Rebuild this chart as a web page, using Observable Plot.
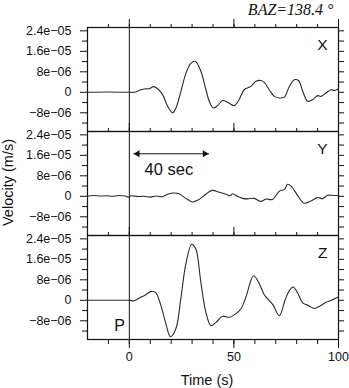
<!DOCTYPE html>
<html><head><meta charset="utf-8">
<script src="https://cdn.jsdelivr.net/npm/d3@7"></script>
<script src="https://cdn.jsdelivr.net/npm/@observablehq/plot@0.6"></script>
<style>body{margin:0;background:#fff}</style>
</head><body><div id="chart"></div>
<script>
// Components (facets)
const components = ["X", "Y", "Z"];
// Velocities in units of 1e-6 m/s, time in s relative to P
const xTime = [-20,-10,0,3,5.5,7.9,9.5,11.6,13.5,15.9,18.3,20.7,22.2,24.6,27,29.4,31.5,34.2,36.6,38.2,40.1,42.2,44.6,47,50.1,52.5,54.9,58.1,60.5,62.9,64.5,66.9,69.3,71.7,74.1,76.5,78.9,81,82.9,85.3,87.7,90,91.6,94,96.4,98,100];
const xVel  = [0,0.1,0,0.1,1.0,1.4,1.4,2.2,1.4,-0.9,-5.4,-8.0,-6.3,0.2,7.3,11.3,12.1,8.2,1.1,-3.5,-6.1,-5.2,-3.2,-3.9,-5.2,-2.8,1.0,2.3,4.3,4.6,3.9,1.0,-1.6,-2.2,-1.9,2.3,4.9,4.5,0.4,-3.5,-2.8,-1.3,-1.6,-0.3,1.0,0.7,1.4];
const yTime = [-20,-17,-14,-11,-8,-5,-2,-0.5,1,4,7,10,13,15.5,18.3,21.4,23.8,27,30.2,33.4,36.6,39.5,43,46.2,48.1,49.4,51.8,54.2,56.6,59.7,62.9,65.3,68.5,71.7,74.1,75.7,77.3,80.5,83.6,86.8,90,92.4,94.8,98,100];
const yVel  = [0.1,0.3,0.1,0.2,0,0.3,0.1,-0.3,0.2,-0.1,0,-0.3,0.1,-0.2,0.8,1.3,1.0,-0.8,-2.2,-1.2,0.8,2.3,1.6,0.8,0.2,1.0,-0.1,-0.8,-1.0,-0.8,-2.0,-1.1,-1.2,2.0,2.7,4.7,4.0,0.3,-2.7,-1.8,-0.5,-0.9,0.4,0.3,0.3];
const zTime = [-20,-10,0,2.3,5.5,7.9,10.6,12.7,15.1,17.5,19.6,22.2,24.6,27,29.8,31.8,34.2,36.6,39,41.4,44.6,47.8,51,53.3,55.7,59.4,62.1,64.5,66.9,68.7,71.7,74.5,76.5,78.3,80.5,82.9,85.8,88.4,91.2,94,96.6,99.6,100];
const zVel  = [0,0,0,-0.2,1.2,2.2,3.5,2.9,-2.1,-9.2,-14.2,-11.2,0.5,14.1,21.9,20.0,7.0,-4.7,-9.9,-8.6,-6.2,-6.6,-5.2,-3.4,1.2,9.6,6.5,2.2,-0.1,-1.8,-6.0,0.2,3.8,5.2,2.8,-1.0,-2.1,-3.2,-2.2,-0.8,0.0,1.2,1.3];

// Axis ticks and labels
const yTickValues = [-8, 0, 8, 16, 24];
const yTickLabels = ["\u22128e\u221206", "0", "8e\u221206", "1.6e\u221205", "2.4e\u221205"];
const yMinorTicks = [-12, -4, 4, 12, 20];
const yRightTicks = [-12, -8, -4, 0, 4, 8, 12, 16, 20, 24];
const xMajorTicks = [0, 50, 100];
const xMajorLabels = ["0", "50", "100"];
const xMinorTicks = [-10, 0, 10, 20, 30, 40, 50, 60, 70, 80, 90, 100];

// Annotations
const titleText = ["BAZ=138.4 \u00b0"];
const yLabel = ["Velocity (m/s)"];
const xLabel = ["Time (s)"];
const scaleBarStart = [2];
const scaleBarEnd = [38];
const scaleBarLevel = [16.6];
const scaleBarText = ["40 sec"];
const scaleBarTextPos = [18.9, 10.4];
const phaseText = ["P"];
const phasePos = [-4.7, -9.9];

const rows = [
  ...xTime.map((t, i) => ({comp: "X", t, v: xVel[i]})),
  ...yTime.map((t, i) => ({comp: "Y", t, v: yVel[i]})),
  ...zTime.map((t, i) => ({comp: "Z", t, v: zVel[i]}))
];
const blank = () => "";
const sans = "Liberation Sans, Arial, Helvetica, sans-serif";
const ink = "#111";
const head = {fy: () => "Y", y: () => scaleBarLevel[0], symbol: "triangle", r: 2.6, fill: ink, stroke: "none"};

const chart = Plot.plot({
  width: 349,
  height: 388,
  marginTop: 26,
  marginBottom: 49,
  marginLeft: 87,
  marginRight: 11,
  style: {fontFamily: sans, fontSize: "12.5px", background: "white", color: ink},
  x: {domain: [-20, 100]},
  y: {domain: [-15.3, 25.3]},
  fy: {domain: components, padding: 0, axis: null},
  marks: [
    Plot.frame({stroke: ink, strokeWidth: 1.2}),
    Plot.ruleX([0], {stroke: ink, strokeWidth: 1}),
    // left y axis
    Plot.axisY({anchor: "left", ticks: yTickValues, tickSize: 7, tickPadding: 9, color: ink, fontSize: 12.5,
      tickFormat: d => yTickLabels[yTickValues.indexOf(d)], label: null}),
    Plot.axisY({anchor: "left", ticks: yMinorTicks, tickSize: 5, tickFormat: blank, label: null, color: ink}),
    // right y ticks
    Plot.axisY({anchor: "right", ticks: yRightTicks, tickSize: 5, tickFormat: blank, label: null, color: ink}),
    // top ticks in every panel
    Plot.axisX({anchor: "top", ticks: xMinorTicks, tickSize: 4, tickFormat: blank, label: null, facetAnchor: "left", color: ink}),
    Plot.axisX({anchor: "top", ticks: xMajorTicks, tickSize: 9, tickFormat: blank, label: null, facetAnchor: "left", color: ink}),
    // bottom axis
    Plot.axisX({anchor: "bottom", ticks: xMinorTicks, tickSize: 5, tickFormat: blank, label: null, color: ink}),
    Plot.axisX({anchor: "bottom", ticks: xMajorTicks, tickSize: 9, tickPadding: 4, color: ink, fontSize: 12.5,
      tickFormat: d => xMajorLabels[xMajorTicks.indexOf(d)], label: null}),
    // waveforms
    Plot.line(rows, {x: "t", y: "v", fy: "comp", curve: "catmull-rom", stroke: "#2a2a2a", strokeWidth: 1.1}),
    // component labels
    Plot.text(components, {fy: d => d, text: d => d, frameAnchor: "top-right", textAnchor: "end",
      lineAnchor: "top", dx: -11, dy: 11, fontSize: 15.5, fill: ink}),
    // title
    Plot.text(titleText, {fy: () => "X", text: d => d, frameAnchor: "top-right", textAnchor: "end",
      lineAnchor: "middle", dx: -5, dy: -17.5, fontSize: 16, fontStyle: "italic", fill: ink,
      fontFamily: "Liberation Serif, Times New Roman, serif"}),
    // y label
    Plot.text(yLabel, {fy: () => "Y", text: d => d, frameAnchor: "left", rotate: -90, fill: ink,
      textAnchor: "middle", lineAnchor: "middle", dx: -79, dy: -1, fontSize: 14.5}),
    // x label
    Plot.text(xLabel, {fy: () => "Z", text: d => d, frameAnchor: "bottom", textAnchor: "middle", fill: ink,
      lineAnchor: "middle", dx: -6, dy: 40.5, fontSize: 14.5}),
    // 40 sec scale bar with arrowheads at both ends
    Plot.link(scaleBarLevel, {fy: () => "Y", x1: () => scaleBarStart[0], x2: () => scaleBarEnd[0],
      y1: d => d, y2: d => d, stroke: ink, strokeWidth: 1}),
    Plot.dot(scaleBarStart, {...head, x: d => d, rotate: -90, dx: 4}),
    Plot.dot(scaleBarEnd, {...head, x: d => d, rotate: 90, dx: -4}),
    Plot.text(scaleBarText, {fy: () => "Y", x: () => scaleBarTextPos[0], y: () => scaleBarTextPos[1],
      text: d => d, fontSize: 16.5, fill: ink}),
    // P phase label
    Plot.text(phaseText, {fy: () => "Z", x: () => phasePos[0], y: () => phasePos[1],
      text: d => d, fontSize: 16, fill: ink})
  ]
});
document.getElementById("chart").appendChild(chart);
</script></body></html>
